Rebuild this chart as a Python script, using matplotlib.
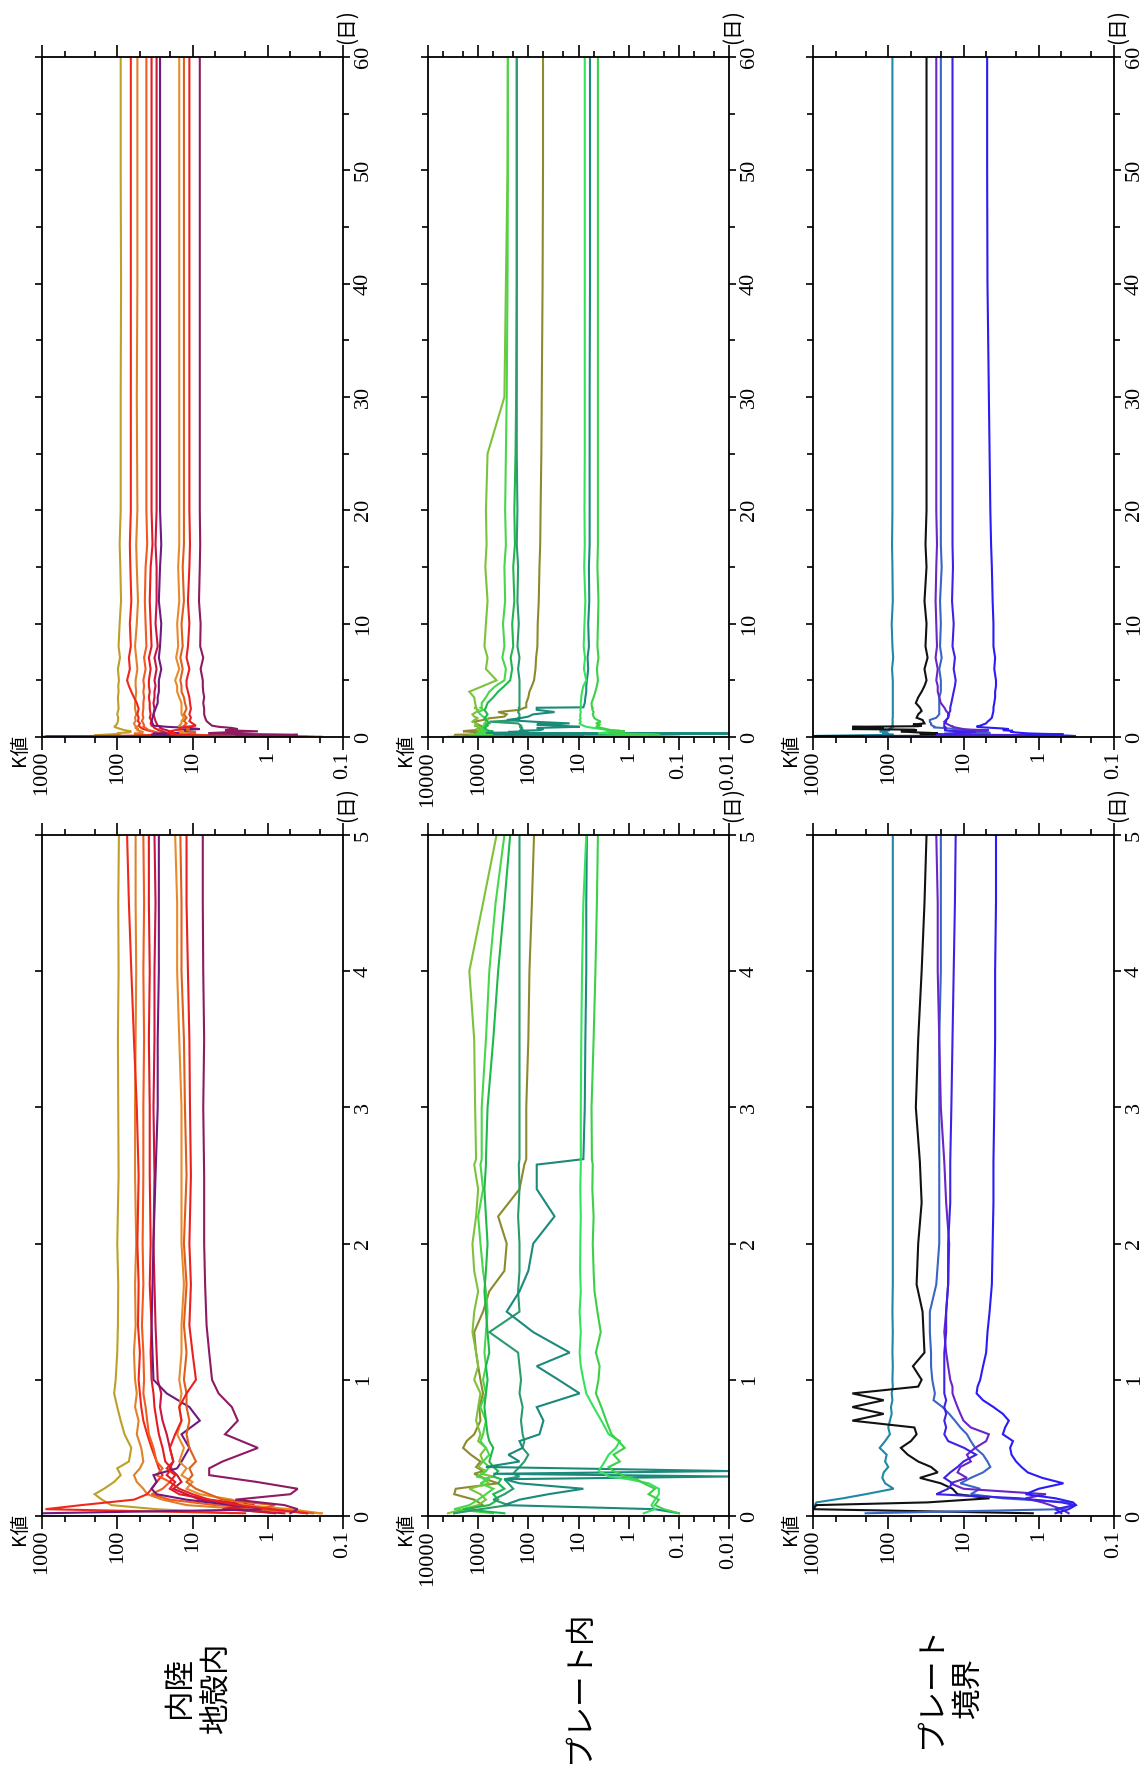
import matplotlib
matplotlib.use('Agg')
import matplotlib.pyplot as plt
from matplotlib.ticker import LogLocator, MultipleLocator, FuncFormatter, NullFormatter

# ---- 内陸地殻内 ----
T1 = [0.02, 0.05, 0.08, 0.12, 0.16, 0.2, 0.25, 0.3, 0.35, 0.4, 0.5, 0.6, 0.7, 0.8, 0.9, 1.0,
      1.2, 1.4, 1.7, 2.0, 2.5, 3.0, 3.5, 4.0, 4.5,
      5.0, 6, 7, 8, 10, 12, 15, 17, 20, 30, 40, 50, 60]
inland_olive = [3, 30, 120, 160, 200, 150, 110, 90, 100, 70, 65, 80, 90, 100, 110, 105, 100, 98, 97, 100,
                96, 97, 98, 96, 97,
                95, 98, 92, 96, 93, 89, 91, 93, 90, 90, 89, 90, 90]
inland_orange = [0.19, 2, 12, 25, 40, 45, 55, 60, 50, 45, 48, 55, 52, 58, 55, 58, 60, 57, 58, 56,
                 58, 58, 57, 56, 57,
                 57, 54, 56, 58, 55, 53, 55, 56, 54, 55, 54, 54, 54]
inland_red1 = [2, 900, 300, 60, 40, 35, 30, 25, 28, 30, 35, 40, 45, 48, 50, 52, 50, 53, 52, 54,
               52, 55, 60, 65, 70,
               74, 68, 70, 66, 68, 65, 67, 68, 66, 66, 66, 66, 66]
inland_orangered = [0.3, 0.8, 5, 20, 35, 25, 20, 30, 25, 30, 33, 38, 40, 42, 45, 44, 45, 47, 45, 46,
                    45, 45, 44, 45, 44,
                    45, 42, 44, 41, 42, 43, 42, 40, 41, 41, 41, 41, 41]
inland_red2 = [0.8, 3, 1.5, 6, 15, 20, 17, 22, 19, 23, 25, 28, 30, 32, 33, 35, 36, 35, 37, 36,
               37, 37, 38, 37, 38,
               38, 36, 38, 35, 36, 37, 36, 34, 35, 35, 35, 35, 35]
inland_crimson = [0.6, 4, 2, 8, 12, 18, 14, 16, 20, 18, 20, 22, 25, 27, 26, 29, 30, 31, 32, 33,
                  32, 33, 32, 32, 31,
                  32, 30, 32, 29, 31, 30, 30, 31, 30, 30, 30, 30, 30]
inland_purple = [1000, 0.8, 3, 12, 30, 35, 30, 33, 16, 14, 11, 14, 8, 11, 22, 33, 34, 35, 34, 33,
                 31, 29, 29, 28, 28,
                 28, 26, 28, 27, 26, 28, 27, 26, 27, 27, 27, 27, 27]
inland_orange2 = [0.2, 0.5, 2, 3, 8, 12, 10, 14, 12, 15, 13, 16, 14, 15, 14, 15, 14, 14, 13, 14,
                  14, 14, 15, 16, 16,
                  17, 15, 16.5, 15.5, 16, 15, 15.5, 15, 15, 15, 15, 15, 15]
inland_darkorange = [0.25, 1.2, 0.8, 4, 6, 9, 12, 10, 11, 9, 11, 12, 11, 12, 12, 13, 12, 13, 12, 13,
                     12, 12.6, 13, 14, 14,
                     14.5, 13.5, 14.5, 13.5, 14, 13, 13.5, 13, 13, 13, 13, 13, 13]
inland_red3 = [0.3, 0.9, 2.5, 6, 10, 15, 20, 17, 22, 18, 20, 17, 14, 15, 12, 9, 10, 11, 10.5, 11,
               10.5, 10.8, 11, 11.5, 12,
               12, 11, 12, 11.5, 11, 11.5, 11, 10.8, 11, 11, 11, 11, 11]
inland_magenta = [0.5, 0.4, 0.6, 2.7, 0.5, 0.4, 1.4, 6, 6, 4, 1.35, 3.7, 2.5, 3, 4.5, 5.5, 6, 6.5, 6.8, 7,
                  7, 7.2, 7, 7.2, 7.3,
                  7.3, 7.8, 7.2, 7.9, 7.8, 8.2, 8, 7.9, 8, 8, 8, 8, 8]

# ---- プレート内 ----
T2 = [0.02, 0.05, 0.08, 0.12, 0.16, 0.2, 0.24, 0.27, 0.29, 0.31, 0.33, 0.36, 0.4, 0.45, 0.5, 0.55,
      0.6, 0.7, 0.8, 0.9, 1.0, 1.1, 1.2, 1.35, 1.5, 1.65, 1.8, 2.0, 2.2, 2.4, 2.58, 2.62, 3.0, 3.5,
      4.0, 4.5,
      5.0, 6, 7, 8, 10, 12, 15, 17, 20, 25, 30, 40, 50, 60]
intra_olive = [3000, 1500, 800, 1200, 3000, 2800, 400, 700, 900, 1200, 800, 1100, 900, 1400, 2000, 1700,
               1200, 900, 950, 800, 900, 1000, 1100, 1200, 800, 600, 300, 270, 400, 150, 120, 110, 110, 100,
               95, 85,
               77, 72, 70, 66, 65, 62, 60, 58, 57, 55, 54, 52, 51, 51]
intra_yellowgreen = [4000, 2000, 1000, 700, 900, 1500, 600, 800, 500, 900, 700, 1000, 800, 900, 700, 1000,
                     900, 1100, 1000, 900, 1200, 1000, 1100, 1300, 1200, 1000, 1200, 1300, 1100, 1000, 1200,
                     1100, 1150, 1200, 1500, 800,
                     430, 700, 650, 750, 700, 650, 720, 680, 700, 650, 300, 280, 260, 256]
intra_lightgreen = [500, 3000, 1500, 1000, 700, 500, 900, 600, 1100, 800, 700, 600, 800, 600, 700, 900,
                    800, 700, 900, 700, 800, 700, 750, 700, 650, 700, 800, 900, 1000, 800, 900, 850, 850,
                    700, 600, 450,
                    300, 280, 330, 300, 320, 290, 300, 280, 290, 280, 270, 260, 256, 256]
intra_green = [300, 2000, 600, 400, 500, 300, 400, 350, 500, 450, 400, 500, 600, 550, 500, 600,
               650, 700, 750, 700, 650, 700, 600, 650, 700, 750, 700, 650, 700, 750, 700, 700, 650,
               500, 400, 300,
               230, 210, 225, 200, 210, 190, 200, 185, 190, 180, 175, 170, 170, 170]
intra_tealgreen = [3000, 900, 250, 500, 300, 200, 250, 300, 150, 200, 180, 150, 120, 100, 130, 120,
                   130, 140, 130, 150, 140, 150, 160, 600, 150, 160, 150, 150, 160, 150, 155, 150, 150,
                   150, 150, 150,
                   150, 160, 150, 165, 155, 165, 160, 170, 165, 170, 170, 170, 170, 170]
intra_teal = [0.1, 0.3, 300, 150, 40, 8, 150, 300, 0.01, 500, 0.01, 700, 150, 250, 130, 150,
              60, 50, 68, 9.5, 25, 68, 15, 80, 270, 150, 100, 80, 30, 68, 68, 8, 7.5,
              7.3, 7, 7,
              6.8, 6.4, 6.6, 6.2, 6.4, 6.1, 6.2, 6, 6, 6, 6, 5.9, 5.9, 5.9]
intra_bright = [0.5, 0.3, 0.35, 0.3, 0.25, 0.25, 0.4, 1.0, 2.5, 3, 4, 3.5, 3, 2.5, 1.8, 1.5,
                2.5, 3.5, 5, 7, 8, 9, 9.5, 9, 9.5, 9, 9.3, 9.2, 9, 9.2, 9, 9, 9,
                8.8, 8.5, 8,
                7, 7.8, 7.4, 7.9, 7.6, 7.3, 7.7, 7.5, 7.6, 7.5, 7.5, 7.5, 7.5, 7.5]
intra_green2 = [0.1, 0.2, 0.3, 0.25, 0.4, 0.3, 0.5, 0.7, 1.2, 1.5, 2, 2.5, 1.5, 2, 1.2, 1.6,
                2.2, 2.8, 3.5, 4.5, 4, 3.8, 4.5, 3.6, 4.2, 4.8, 5, 5.2, 5, 5.3, 5.2, 5.4, 5.5,
                5, 4.6, 4.3,
                4.1, 4.3, 4.0, 4.2, 4.1, 4.0, 4.2, 4.1, 4.1, 4.1, 4.1, 4.1, 4.1, 4.1]

# ---- プレート境界 ----
T3 = [0.02, 0.05, 0.08, 0.1, 0.13, 0.16, 0.2, 0.24, 0.28, 0.32, 0.36, 0.4, 0.45, 0.5, 0.55, 0.6,
      0.65, 0.7, 0.75, 0.8, 0.85, 0.9, 0.95, 1.0, 1.1, 1.2, 1.35, 1.5, 1.7, 2.0, 2.3, 2.6, 3.0,
      3.5, 4.0, 4.5,
      5.0, 6, 7, 8, 10, 12, 15, 17, 20, 30, 40, 50, 60]
bound_teal = [1000, 1000, 950, 900, 400, 200, 85, 110, 120, 115, 100, 110, 105, 130, 110, 95,
              100, 95, 90, 92, 88, 90, 87, 88, 87, 88, 87, 88, 87, 87, 87, 87, 87,
              87, 87, 87,
              87, 89, 86, 88, 90, 87, 88, 89, 88, 88, 88, 88, 88]
bound_black = [1.2, 1000, 900, 30, 4.5, 12, 14, 20, 38, 22, 27, 40, 55, 68, 50, 42,
               45, 300, 115, 300, 115, 300, 40, 36, 47, 33, 34, 35, 42, 40, 36, 38, 43,
               40, 36, 33,
               31, 33, 30, 32, 31, 33, 31, 32, 31, 31, 31, 31, 31]
bound_steel = [200, 0.5, 0.35, 0.4, 3, 8, 6, 11, 8, 5.5, 4.4, 4.8, 5.5, 7, 8, 9,
               11, 13, 15.5, 19, 25, 24, 25, 26, 27, 27, 28, 28, 23, 21, 21, 21, 21,
               21, 20, 20,
               20, 21, 19.5, 20.5, 20, 20.5, 19.5, 20, 20, 20, 20, 20, 20]
bound_purple = [0.4, 0.5, 0.7, 0.9, 1.5, 0.8, 10, 15, 9, 12, 11, 8, 9, 7, 5, 4.6,
                8, 10, 11, 12, 13, 14, 14, 15, 16, 17, 18, 17, 16, 15.5, 17, 18, 20,
                21, 22, 22,
                23, 22, 23.5, 22.5, 23, 23.5, 23, 22.5, 23, 23, 23, 23, 23]
bound_blue = [0.5, 0.6, 0.33, 0.5, 1.8, 23, 16, 14, 18, 15, 12, 10, 6.8, 9.8, 16, 18,
              17, 18, 17, 18, 17, 18, 18, 18, 18, 18, 17, 17, 16, 16, 15, 15, 14.5,
              14, 13.5, 13,
              12.7, 13.5, 13, 14, 13.5, 14.2, 13.8, 14, 14, 14, 14, 14, 14]
bound_brightblue = [0.6, 0.4, 0.32, 0.35, 0.6, 1.5, 1.0, 0.47, 0.9, 1.4, 1.7, 2.0, 2.3, 2.4, 2.2, 3,
                    2.8, 2.5, 3, 4, 5.5, 6.7, 6.5, 6, 5.5, 5, 4.8, 4.5, 4.2, 4.1, 4, 4, 3.9,
                    3.8, 3.8, 3.7,
                    3.7, 3.9, 3.8, 4.0, 4.0, 4.1, 4.2, 4.3, 4.4, 4.6, 4.8, 4.85, 4.85]

group_labels = ["内陸\n地殻内", "プレート内", "プレート\n境界"]

groups = [
    (T1, [(inland_olive, '#bca02a'), (inland_orange, '#e1802a'), (inland_red1, '#f0281a'),
          (inland_orangered, '#f25a1e'), (inland_red2, '#e41c22'), (inland_crimson, '#c81640'),
          (inland_purple, '#6e1a7e'), (inland_orange2, '#e98a2a'), (inland_darkorange, '#de5e1c'),
          (inland_red3, '#ea2020'), (inland_magenta, '#8e1a62')], (1000, 0.1)),
    (T2, [(intra_olive, '#8c8a2c'), (intra_yellowgreen, '#7cc23a'), (intra_lightgreen, '#48d64a'),
          (intra_green, '#1fb84a'), (intra_tealgreen, '#2a9c6c'), (intra_teal, '#1a8a7a'),
          (intra_bright, '#34e25c'), (intra_green2, '#3cd048')], (10000, 0.01)),
    (T3, [(bound_teal, '#1e88a6'), (bound_black, '#111111'), (bound_steel, '#3a64c6'),
          (bound_purple, '#6a24c8'), (bound_blue, '#3c22e6'), (bound_brightblue, '#2a1cf6')], (1000, 0.1)),
]

JP = ['Noto Sans CJK JP', 'DejaVu Sans']
W, H = 1143, 1766
col_left = [42, 428, 813]
pw = 301
# (top, bottom) pixel rows, day range, major, minor
rows = [(57, 737, 60, 10, 5), (835, 1516, 5, 1, None)]

fig = plt.figure(figsize=(W / 100, H / 100), dpi=100)

for gi, (times, series, klim) in enumerate(groups):
    for top, bottom, dmax, dmaj, dmin in rows:
        ax = fig.add_axes([col_left[gi] / W, 1 - bottom / H, pw / W, (bottom - top) / H])
        for vals, c in series:
            ax.plot(vals, times, color=c, lw=1.5, solid_joinstyle='miter')
        ax.set_xscale('log')
        ax.set_xlim(klim[0], klim[1])
        ax.set_ylim(0, dmax)
        ax.xaxis.set_major_locator(LogLocator(base=10, numticks=20))
        ax.xaxis.set_minor_locator(LogLocator(base=10, subs=(2.0, 5.0), numticks=20))
        ax.xaxis.set_major_formatter(FuncFormatter(lambda v, p: '%g' % v))
        ax.xaxis.set_minor_formatter(NullFormatter())
        ax.yaxis.set_major_locator(MultipleLocator(dmaj))
        if dmin:
            ax.yaxis.set_minor_locator(MultipleLocator(dmin))
        for s in ax.spines.values():
            s.set_linewidth(1.3)
        ax.tick_params(axis='x', which='both', direction='out', top=True, bottom=True,
                       labelbottom=True, labeltop=False, labelrotation=90, width=1.2,
                       labelsize=16, labelfontfamily='Liberation Serif', pad=1)
        ax.tick_params(axis='x', which='major', length=9)
        ax.tick_params(axis='x', which='minor', length=4.5)
        ax.tick_params(axis='y', which='both', direction='out', left=True, right=True,
                       labelleft=False, labelright=True, labelrotation=90, width=1.2,
                       labelsize=16, labelfontfamily='Liberation Serif', pad=3)
        ax.tick_params(axis='y', which='major', length=5)
        ax.tick_params(axis='y', which='minor', length=4)
        for t in ax.yaxis.get_major_ticks():
            t.label2.set_verticalalignment('center')
        ax.text(-0.075, 0.005, 'K値', transform=ax.transAxes, rotation=90,
                ha='center', va='top', fontsize=14, family=JP)
        ax.text(1.013, 1 + 30 / (bottom - top), '(日)', transform=ax.transAxes, rotation=90,
                ha='center', va='center', fontsize=15, family=JP)

label_x = [198, 579, 950]
for gi, lab in enumerate(group_labels):
    fig.text(label_x[gi] / W, 1 - 1687 / H, lab, rotation=90, ha='center', va='center',
             multialignment='center', fontsize=22, family=JP, linespacing=1.25)

fig.savefig('out.png', dpi=100)
